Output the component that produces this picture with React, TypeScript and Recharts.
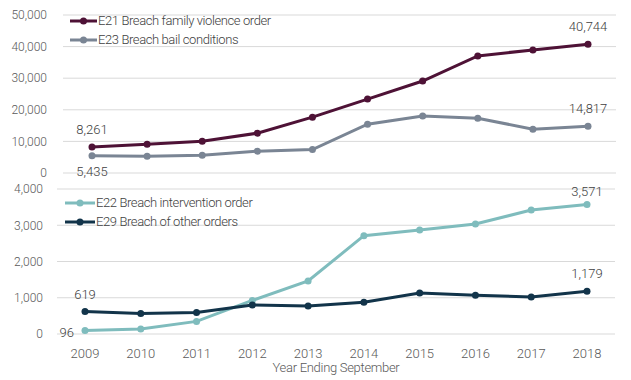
import * as React from 'react';
import { LineChart, Line, XAxis, YAxis, CartesianGrid, Label } from 'recharts';

const years = ['2009', '2010', '2011', '2012', '2013', '2014', '2015', '2016', '2017', '2018'];

const e21 = [8261, 9100, 10060, 12600, 17680, 23400, 29100, 37050, 38950, 40744];
const e23 = [5435, 5300, 5600, 6900, 7400, 15450, 18000, 17350, 13870, 14817];
const e22 = [96, 138, 348, 927, 1462, 2712, 2868, 3034, 3420, 3571];
const e29 = [619, 568, 596, 799, 772, 874, 1131, 1067, 1021, 1179];

const topTicks = [0, 10000, 20000, 30000, 40000, 50000];
const bottomTicks = [0, 1000, 2000, 3000, 4000];

const topData = years.map((y, i) => ({ year: y, e21: e21[i], e23: e23[i] }));
const bottomData = years.map((y, i) => ({ year: y, e22: e22[i], e29: e29[i] }));

const FONT = 'Roboto, sans-serif';
const TICK = { fill: '#595959', fontSize: 12, fontFamily: FONT, fontWeight: 300 };
const fmt = (v: number) => v.toLocaleString('en-US');

type Spot = 'above' | 'near' | 'below' | 'left';

// which points get a value label, and where it sits
const makeLabel = (spots: { [i: number]: Spot }) => (props: any) => {
    const { x, y, index, value } = props;
    const spot = spots[index];
    if (!spot) return null;
    let tx = x, ty = y - 13, anchor: any = 'middle';
    if (spot === 'near') ty = y - 9;
    if (spot === 'below') ty = y + 20;
    if (spot === 'left') { tx = x - 11; ty = y + 6; anchor = 'end'; }
    return (
        <text x={tx} y={ty} textAnchor={anchor} fill="#404040" fontSize={13} fontFamily={FONT} fontWeight={300}>
            {fmt(value)}
        </text>
    );
};

const LegendBox = ({ items, lineW, left, top }: { items: { name: string; color: string }[]; lineW: number; left: number; top: number }) => (
    <div style={{ position: 'absolute', left, top, fontFamily: FONT, fontWeight: 300, fontSize: 13, letterSpacing: -0.4, color: '#404040', zIndex: 2 }}>
        {items.map(it => (
            <div key={it.name} style={{ display: 'flex', alignItems: 'center', height: 19, whiteSpace: 'nowrap' }}>
                <svg width={lineW} height={10} style={{ marginRight: 1 }}>
                    <line x1={0} y1={5} x2={lineW} y2={5} stroke={it.color} strokeWidth={3} />
                    <circle cx={lineW / 2} cy={5} r={3.5} fill={it.color} />
                </svg>
                <span>{it.name}</span>
            </div>
        ))}
    </div>
);

export default function App() {
    return (
        <div style={{ position: 'absolute', left: 0, top: 0, width: 631, height: 380, background: '#fff' }}>
            <div style={{ position: 'absolute', left: 0, top: 0 }}>
                <LineChart width={631} height={182} data={topData} margin={{ top: 15, right: 15, left: 0, bottom: 9 }}>
                    <CartesianGrid vertical={false} stroke="#d9d9d9" />
                    <XAxis dataKey="year" hide padding={{ left: 29, right: 28 }} />
                    <YAxis width={63} domain={[0, 50000]} ticks={topTicks} tickFormatter={fmt} interval={0}
                        axisLine={false} tickLine={false} tickSize={0} tickMargin={16} tick={TICK} />
                    <Line dataKey="e21" stroke="#4e1236" strokeWidth={3} isAnimationActive={false}
                        dot={{ r: 3.5, fill: '#4e1236', strokeWidth: 0 }} label={makeLabel({ 0: 'above', 9: 'above' })} />
                    <Line dataKey="e23" stroke="#7a8594" strokeWidth={3} isAnimationActive={false}
                        dot={{ r: 3.5, fill: '#7a8594', strokeWidth: 0 }} label={makeLabel({ 0: 'below', 9: 'above' })} />
                </LineChart>
            </div>
            <LegendBox left={70} top={11} lineW={27} items={[
                { name: 'E21 Breach family violence order', color: '#4e1236' },
                { name: 'E23 Breach bail conditions', color: '#7a8594' },
            ]} />
            <div style={{ position: 'absolute', left: 0, top: 182 }}>
                <LineChart width={631} height={198} data={bottomData} margin={{ top: 7, right: 16, left: 0, bottom: 6 }}>
                    <CartesianGrid vertical={false} stroke="#d9d9d9" />
                    <XAxis dataKey="year" axisLine={false} tickLine={false} tickSize={0} tickMargin={15}
                        height={40} tick={{ ...TICK, fontSize: 13 }} padding={{ left: 28, right: 28 }}>
                        <Label value="Year Ending September" position="insideBottom" offset={2}
                            style={{ fill: '#595959', fontSize: 13, fontFamily: FONT, fontWeight: 300, letterSpacing: -0.3 }} />
                    </XAxis>
                    <YAxis width={57} domain={[0, 4000]} ticks={bottomTicks} tickFormatter={fmt} interval={0}
                        axisLine={false} tickLine={false} tickSize={0} tickMargin={14} tick={TICK} />
                    <Line dataKey="e22" stroke="#7fbcbd" strokeWidth={3} isAnimationActive={false}
                        dot={{ r: 3.5, fill: '#7fbcbd', strokeWidth: 0 }} label={makeLabel({ 0: 'left', 9: 'near' })} />
                    <Line dataKey="e29" stroke="#12344a" strokeWidth={3} isAnimationActive={false}
                        dot={{ r: 3.5, fill: '#12344a', strokeWidth: 0 }} label={makeLabel({ 0: 'above', 9: 'above' })} />
                </LineChart>
            </div>
            <LegendBox left={65} top={193} lineW={30} items={[
                { name: 'E22 Breach intervention order', color: '#7fbcbd' },
                { name: 'E29 Breach of other orders', color: '#12344a' },
            ]} />
        </div>
    );
}
